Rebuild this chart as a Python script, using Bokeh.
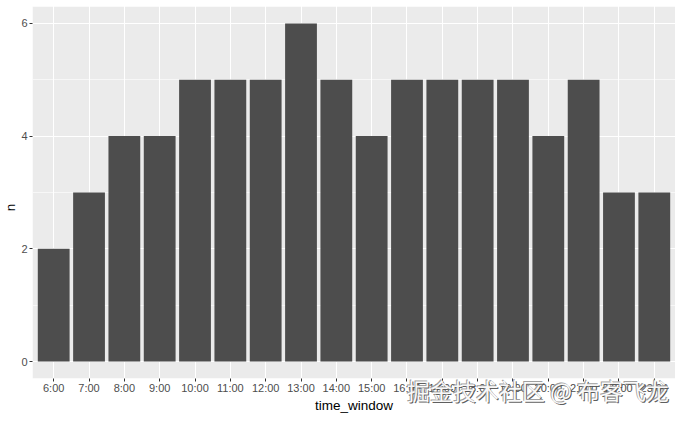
from bokeh.plotting import figure
from bokeh.models import Range1d, FixedTicker, Label, ColumnDataSource, BoxAnnotation
from bokeh.embed import file_html
from bokeh.resources import INLINE

categories = ["6:00", "7:00", "8:00", "9:00", "10:00", "11:00", "12:00", "13:00", "14:00",
              "15:00", "16:00", "17:00", "18:00", "19:00", "20:00", "21:00", "22:00", "23:00"]
counts = [2, 3, 4, 4, 5, 5, 5, 6, 5, 4, 5, 5, 5, 5, 4, 5, 3, 3]
y_ticks = [0, 2, 4, 6]
y_minor = [1, 3, 5]
watermark = "掘金技术社区 @ 布客飞龙"

xs = list(range(len(categories)))
src = ColumnDataSource(dict(x=xs, n=counts, label=categories))

Y_LO, Y_HI = -0.3, 6.3          # panel (grey area) limits, ggplot-style expansion
p = figure(width=675, height=414, output_backend="svg", toolbar_location=None,
           x_range=Range1d(-0.6, len(categories) - 1 + 0.6),
           y_range=Range1d(-0.94, 6.406),
           min_border_left=0, min_border_right=0, min_border_top=0, min_border_bottom=0)

p.background_fill_color = "white"
p.border_fill_color = "white"
p.outline_line_color = None

# grey panel and white cover below it (the frame reaches the canvas bottom)
p.add_layout(BoxAnnotation(bottom=Y_LO, top=Y_HI, fill_color="#EBEBEB", fill_alpha=1,
                           line_color=None, level="image"))
p.add_layout(BoxAnnotation(top=Y_LO, fill_color="white", fill_alpha=1,
                           line_color=None, level="glyph"))
p.add_layout(BoxAnnotation(bottom=Y_HI, fill_color="white", fill_alpha=1,
                           line_color=None, level="glyph"))

p.vbar(x="x", top="n", bottom=0, width=0.9, source=src,
       fill_color="#4D4D4D", line_color=None)

p.xaxis.ticker = FixedTicker(ticks=xs)
p.xaxis.major_label_overrides = {i: c for i, c in enumerate(categories)}
p.xaxis.fixed_location = Y_LO
p.yaxis.ticker = FixedTicker(ticks=y_ticks, minor_ticks=y_minor)
p.yaxis.bounds = (Y_LO, Y_HI)

for ax in (p.xaxis[0], p.yaxis[0]):
    ax.axis_line_color = None
    ax.major_tick_line_color = "#333333"
    ax.major_tick_out = 3
    ax.major_tick_in = 0
    ax.minor_tick_line_color = None
    ax.major_label_text_color = "#4D4D4D"
    ax.major_label_text_font = "Liberation Sans"
    ax.major_label_text_font_size = "11px"
    ax.major_label_standoff = 1
    ax.axis_label_text_font = "Liberation Sans"
    ax.axis_label_text_font_size = "13.5px"
    ax.axis_label_text_font_style = "normal"
    ax.axis_label_text_color = "black"
    ax.axis_label_standoff = 0

p.xaxis.axis_label = "time_window"
p.yaxis.axis_label = "n"

p.xgrid.grid_line_color = "white"
p.xgrid.grid_line_width = 1.1
p.ygrid.grid_line_color = "white"
p.ygrid.grid_line_width = 1.1
p.ygrid.minor_grid_line_color = "white"
p.ygrid.minor_grid_line_width = 0.6

# watermark overlay
wm_x, wm_y = 10.0, -0.5
for dx, dy, col in [(1, -1, "#555555"), (-1, 1, "#999999"), (0, 0, "white")]:
    p.add_layout(Label(x=wm_x, y=wm_y, text=watermark, x_offset=dx, y_offset=dy,
                       text_font="Noto Sans CJK SC", text_font_size="23px",
                       text_color=col, text_alpha=0.95, text_baseline="middle",
                       level="overlay"))

open("out.html", "w").write(file_html(p, INLINE))
